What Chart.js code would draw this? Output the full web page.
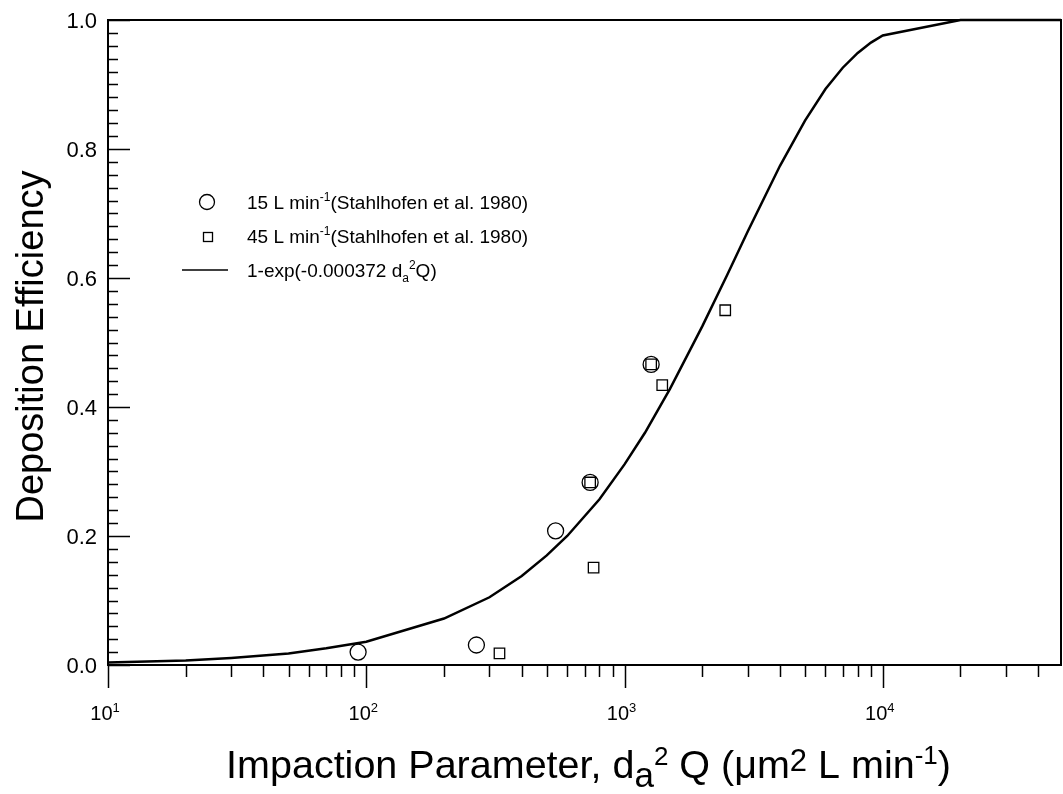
<!DOCTYPE html>
<html>
<head>
<meta charset="utf-8">
<script src="https://cdn.jsdelivr.net/npm/chart.js@4.4.0/dist/chart.umd.min.js"></script>
<style>
  html, body { margin: 0; padding: 0; background: #fff; overflow: hidden; }
  canvas { display: block; }
</style>
</head>
<body>
<canvas id="chart" width="1063" height="794"></canvas>
<script>
const FONT = '"Liberation Sans", Arial, Helvetica, sans-serif';

// 15 L min-1 (Stahlhofen et al. 1980)
const flow15X = [93, 267, 541, 736, 1268];
const flow15Y = [0.020, 0.031, 0.208, 0.283, 0.466];

// 45 L min-1 (Stahlhofen et al. 1980)
const flow45X = [328, 736, 759, 1268, 1400, 2455];
const flow45Y = [0.018, 0.283, 0.151, 0.466, 0.434, 0.550];

// fitted curve 1-exp(-0.000372 da^2 Q)
const fitX = [10, 20, 30, 50, 70, 100, 200, 300, 400, 500, 600, 800, 1000, 1200, 1500, 2000, 2500, 3000,
              4000, 5000, 6000, 7000, 8000, 9000, 10000, 20000, 49000];
const fitY = [0.004, 0.007, 0.011, 0.018, 0.026, 0.036, 0.072, 0.105, 0.138, 0.170, 0.200, 0.257, 0.311,
              0.360, 0.428, 0.525, 0.605, 0.672, 0.774, 0.844, 0.893, 0.926, 0.949, 0.965, 0.976, 1.0, 1.0];

// axis range and ticks
const xMin = 10;
const xMax = 49000;
const xDecades = [10, 100, 1000, 10000];
const xDecadeExp = ['1', '2', '3', '4'];
const yTicks = [0, 0.2, 0.4, 0.6, 0.8, 1.0];
const yTickLabels = ['0.0', '0.2', '0.4', '0.6', '0.8', '1.0'];

function toPoints(xs, ys) {
  return xs.map((v, i) => ({ x: v, y: ys[i] }));
}

// text with super/subscripts: parts = [{ text, size, dy }]
function richWidth(ctx, parts) {
  let w = 0;
  parts.forEach(p => {
    ctx.font = p.size + 'px ' + FONT;
    w += ctx.measureText(p.text).width;
  });
  return w;
}

function drawRich(ctx, parts, x, y, align) {
  let cx = x;
  const w = richWidth(ctx, parts);
  if (align === 'center') cx -= w / 2;
  else if (align === 'right') cx -= w;
  ctx.textAlign = 'left';
  ctx.textBaseline = 'alphabetic';
  parts.forEach(p => {
    ctx.font = p.size + 'px ' + FONT;
    ctx.fillText(p.text, cx, y + (p.dy || 0));
    cx += ctx.measureText(p.text).width;
  });
}

const decorations = {
  id: 'decorations',
  afterDatasetsDraw(chart) {
    const { ctx, chartArea: a, scales: { x, y } } = chart;
    ctx.save();
    ctx.strokeStyle = '#000';
    ctx.fillStyle = '#000';

    // frame
    ctx.lineWidth = 2;
    ctx.strokeRect(a.left, a.top, a.right - a.left, a.bottom - a.top);

    ctx.lineWidth = 1.5;
    ctx.beginPath();
    // x ticks, pointing down out of the frame
    for (let e = 1; e <= 4; e++) {
      for (let m = 1; m <= 9; m++) {
        const v = m * Math.pow(10, e);
        if (v >= x.max) break;
        const px = Math.round(x.getPixelForValue(v)) + 0.5;
        ctx.moveTo(px, a.bottom);
        ctx.lineTo(px, a.bottom + (m === 1 ? 23 : 12));
      }
    }
    // y ticks, pointing into the frame
    for (let i = 0; i <= 50; i++) {
      const py = Math.round(y.getPixelForValue(i * 0.02)) + 0.5;
      ctx.moveTo(a.left, py);
      ctx.lineTo(a.left + (i % 10 === 0 ? 22 : 10), py);
    }
    ctx.stroke();

    // tick labels
    xDecades.forEach((v, i) => {
      const px = x.getPixelForValue(v);
      drawRich(ctx, [
        { text: '10', size: 20 },
        { text: xDecadeExp[i], size: 13, dy: -8 }
      ], px - 3, 720, 'center');
    });
    ctx.font = '22px ' + FONT;
    ctx.textAlign = 'right';
    ctx.textBaseline = 'alphabetic';
    yTicks.forEach((v, i) => {
      ctx.fillText(yTickLabels[i], a.left - 11, y.getPixelForValue(v) + 8);
    });

    // axis titles
    drawRich(ctx, [
      { text: 'Impaction Parameter, d', size: 39.5 },
      { text: 'a', size: 35, dy: 9 },
      { text: '2', size: 26, dy: -13 },
      { text: ' Q (\u03bcm', size: 39.5 },
      { text: '2', size: 31, dy: -7 },
      { text: ' L min', size: 39.5 },
      { text: '-1', size: 26, dy: -14 },
      { text: ')', size: 39.5 }
    ], (a.left + a.right) / 2 + 4, 778, 'center');

    ctx.save();
    ctx.translate(43, (a.top + a.bottom) / 2 + 4);
    ctx.rotate(-Math.PI / 2);
    ctx.font = '38px ' + FONT;
    ctx.textAlign = 'center';
    ctx.textBaseline = 'alphabetic';
    ctx.fillText('Deposition Efficiency', 0, 0);
    ctx.restore();

    // legend
    ctx.lineWidth = 1.3;
    ctx.beginPath();
    ctx.arc(207, 202, 7.5, 0, Math.PI * 2);
    ctx.stroke();
    ctx.strokeRect(203.5, 232.5, 9, 9);
    ctx.lineWidth = 1.6;
    ctx.beginPath();
    ctx.moveTo(182, 270);
    ctx.lineTo(228, 270);
    ctx.stroke();

    drawRich(ctx, [
      { text: '15 L min', size: 19 },
      { text: '-1', size: 12, dy: -8 },
      { text: '(Stahlhofen et al. 1980)', size: 19 }
    ], 247, 209, 'left');
    drawRich(ctx, [
      { text: '45 L min', size: 19 },
      { text: '-1', size: 12, dy: -8 },
      { text: '(Stahlhofen et al. 1980)', size: 19 }
    ], 247, 243, 'left');
    drawRich(ctx, [
      { text: '1-exp(-0.000372 d', size: 19 },
      { text: 'a', size: 12, dy: 5 },
      { text: '2', size: 12, dy: -8 },
      { text: 'Q)', size: 19 }
    ], 247, 277, 'left');

    ctx.restore();
  }
};

new Chart(document.getElementById('chart'), {
  type: 'scatter',
  data: {
    datasets: [
      {
        label: '1-exp(-0.000372 da2Q)',
        data: toPoints(fitX, fitY),
        showLine: true,
        borderColor: '#000',
        borderWidth: 2.5,
        pointRadius: 0,
        tension: 0,
        fill: false,
        clip: false
      },
      {
        label: '15 L min-1 (Stahlhofen et al. 1980)',
        data: toPoints(flow15X, flow15Y),
        pointStyle: 'circle',
        pointRadius: 8,
        borderColor: '#000',
        backgroundColor: 'rgba(0,0,0,0)',
        borderWidth: 1.3
      },
      {
        label: '45 L min-1 (Stahlhofen et al. 1980)',
        data: toPoints(flow45X, flow45Y),
        pointStyle: 'rect',
        pointRadius: 7.4,
        borderColor: '#000',
        backgroundColor: 'rgba(0,0,0,0)',
        borderWidth: 1.3
      }
    ]
  },
  options: {
    responsive: false,
    animation: false,
    layout: { autoPadding: false, padding: { left: 108, top: 20, right: 2, bottom: 129 } },
    plugins: {
      legend: { display: false },
      tooltip: { enabled: false }
    },
    scales: {
      x: { type: 'logarithmic', min: xMin, max: xMax, display: false },
      y: { type: 'linear', min: 0, max: 1, display: false }
    }
  },
  plugins: [decorations]
});
</script>
</body>
</html>
